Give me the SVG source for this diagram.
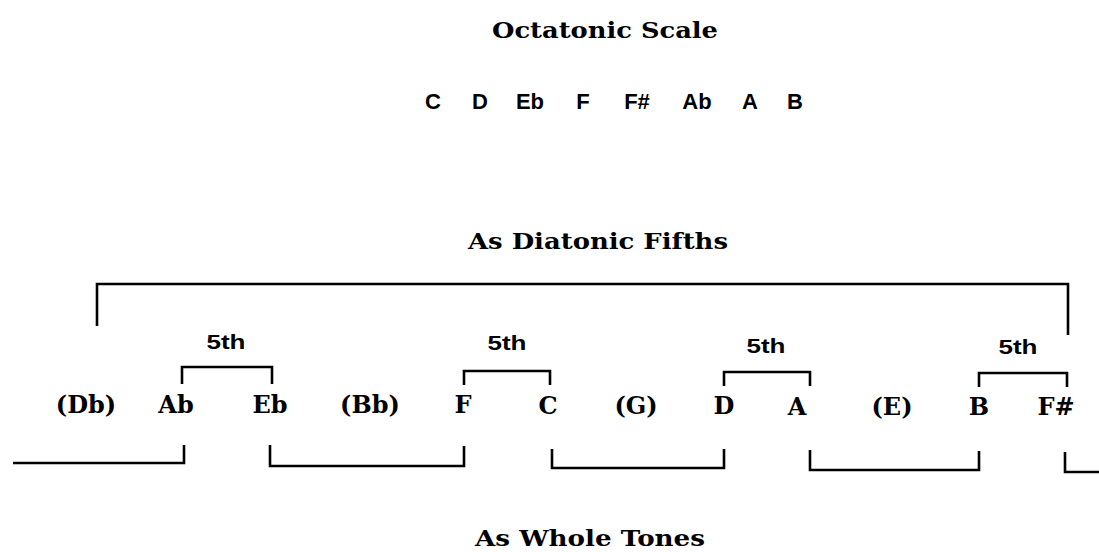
<svg xmlns="http://www.w3.org/2000/svg" width="1099" height="552" viewBox="0 0 1099 552">
<style>
.title{font-family:"DejaVu Serif","Liberation Serif",serif;font-weight:bold;font-size:22px;fill:#000;text-anchor:middle}
.note{font-family:"DejaVu Serif","Liberation Serif",serif;font-weight:bold;font-size:24px;fill:#000;text-anchor:middle}
.scale{font-family:"Liberation Sans",Arial,sans-serif;font-weight:bold;font-size:22px;fill:#000;text-anchor:middle}
.fifth{font-family:"Liberation Sans",Arial,sans-serif;font-weight:bold;font-size:21px;fill:#000;text-anchor:middle}
.br{fill:none;stroke:#000;stroke-width:2.6;stroke-linejoin:miter;stroke-linecap:butt}
</style>
<rect width="1099" height="552" fill="#fff"/>
<g id="titles">
<text class="title" x="605" y="38" textLength="226" lengthAdjust="spacingAndGlyphs">Octatonic Scale</text>
<text class="title" x="598" y="249" textLength="260" lengthAdjust="spacingAndGlyphs">As Diatonic Fifths</text>
<text class="title" x="590" y="546" textLength="230" lengthAdjust="spacingAndGlyphs">As Whole Tones</text>
</g>
<g id="scale">
<text class="scale" x="433" y="109">C</text>
<text class="scale" x="480" y="109">D</text>
<text class="scale" x="530" y="109">Eb</text>
<text class="scale" x="583" y="109">F</text>
<text class="scale" x="637" y="109">F#</text>
<text class="scale" x="697" y="109">Ab</text>
<text class="scale" x="750" y="109">A</text>
<text class="scale" x="795" y="109">B</text>
</g>
<g id="notes">
<text class="note" x="86" y="413">(Db)</text>
<text class="note" x="176" y="413">Ab</text>
<text class="note" x="270" y="413">Eb</text>
<text class="note" x="370" y="413">(Bb)</text>
<text class="note" x="463" y="413">F</text>
<text class="note" x="548" y="414">C</text>
<text class="note" x="636" y="414">(G)</text>
<text class="note" x="724" y="414">D</text>
<text class="note" x="797" y="415">A</text>
<text class="note" x="892" y="415">(E)</text>
<text class="note" x="979" y="415">B</text>
<text class="note" x="1056" y="415">F#</text>
</g>
<g id="fifth-labels">
<text class="fifth" x="226" y="349" textLength="39" lengthAdjust="spacingAndGlyphs">5th</text>
<text class="fifth" x="507" y="350" textLength="39" lengthAdjust="spacingAndGlyphs">5th</text>
<text class="fifth" x="766" y="353" textLength="39" lengthAdjust="spacingAndGlyphs">5th</text>
<text class="fifth" x="1018" y="354" textLength="39" lengthAdjust="spacingAndGlyphs">5th</text>
</g>
<g id="connectors">
<path class="br" d="M97,326 V284 H1068 V335"/>
<path class="br" d="M182,384 V367 H272 V384"/>
<path class="br" d="M464,385 V371 H550 V385"/>
<path class="br" d="M724,386 V372 H810 V386"/>
<path class="br" d="M979,387 V373 H1067 V387"/>
<path class="br" d="M13,463 H184 V445"/>
<path class="br" d="M270,445 V466 H464 V446"/>
<path class="br" d="M552,449 V468 H724 V449"/>
<path class="br" d="M810,450 V470 H979 V451"/>
<path class="br" d="M1065,452 V472 H1099"/>
</g>
</svg>
